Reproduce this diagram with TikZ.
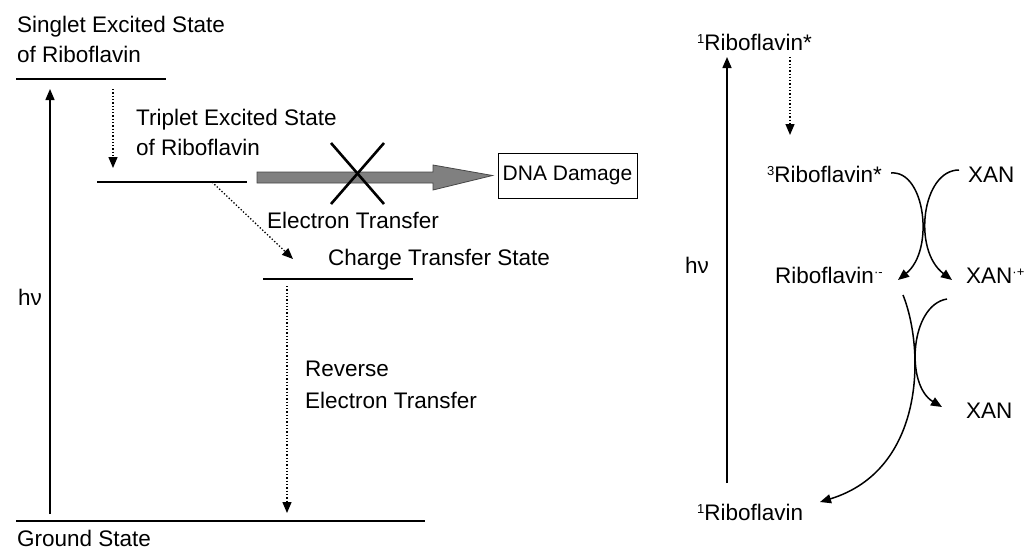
\documentclass[tikz,border=0pt]{standalone}
\usepackage{fontspec}
\setmainfont{Liberation Sans}
\usetikzlibrary{arrows.meta}
\definecolor{arrgray}{RGB}{128,128,128}
\definecolor{arredge}{RGB}{70,70,70}
\newcommand{\myup}[1]{\raisebox{0.55ex}{\fontsize{13}{13}\selectfont #1}}
\begin{document}
\begin{tikzpicture}[x=1pt,y=-1pt,
  lbl/.style={anchor=base west,inner sep=0,font=\fontsize{22.5}{27}\selectfont},
  level/.style={line width=1.4pt},
  uparr/.style={line width=1.5pt,-{Triangle[length=11pt,width=9pt]}},
  dotarr/.style={line width=1.3pt,dotted,-{Triangle[length=11pt,width=9pt]}},
  curvearr/.style={line width=1.5pt,-{Triangle[length=11pt,width=9pt]}}]
\useasboundingbox (0,0) rectangle (1024,552);

% ---------- left panel ----------
\node[lbl] (s1) at (17,32) {Singlet Excited State};
\node[lbl] (s2) at (17,62) {of Riboflavin};
\node[lbl] (t1) at (136,125) {Triplet Excited State};
\node[lbl] (t2) at (136,155) {of Riboflavin};
\node[lbl] (et1) at (267,228) {Electron Transfer};
\node[lbl] (cts) at (328,265) {Charge Transfer State};
\node[lbl] (rv1) at (305,376) {Reverse};
\node[lbl] (rv2) at (305,408) {Electron Transfer};
\node[lbl] (gs) at (17,546) {Ground State};
\node[lbl] (hv1) at (18,305) {h\char"03BD};
\node[draw,line width=1pt,minimum width=139pt,minimum height=45pt,inner sep=0,
      font=\fontsize{21}{25}\selectfont] (dna) at (567.5,175.5) {DNA Damage};

% levels
\coordinate (sL) at (16,79);  \coordinate (sR) at (166,79);
\coordinate (tL) at (97,182); \coordinate (tR) at (247,182);
\coordinate (cL) at (263,279);\coordinate (cR) at (413,279);
\coordinate (gL) at (16,521); \coordinate (gR) at (425,521);
\draw[level] (sL) -- (sR);
\draw[level] (tL) -- (tR);
\draw[level] (cL) -- (cR);
\draw[level] (gL) -- (gR);

% excitation and relaxation
\coordinate (exA) at (50,514); \coordinate (exB) at (50,89);
\draw[uparr] (exA) -- (exB);
\coordinate (isA) at (113,89); \coordinate (isB) at (113,168);
\draw[dotarr] (isA) -- (isB);
\coordinate (etA) at (212,182); \coordinate (etB) at (293,259);
\draw[dotarr] (etA) -- (etB);
\coordinate (rtA) at (287,286); \coordinate (rtB) at (287,513);
\draw[dotarr] (rtA) -- (rtB);

% blocked gray arrow
\filldraw[fill=arrgray,draw=arredge,line width=0.8pt]
  (257,172) -- (433,172) -- (433,165) -- ([xshift=-5pt]dna.west) -- (433,190) -- (433,183) -- (257,183) -- cycle;
\draw[line width=2.6pt] (331,143) -- (384,204);
\draw[line width=2.6pt] (384,143) -- (331,204);

% ---------- right panel ----------
\node[lbl] (r1s) at (697,50) {\myup{1}Riboflavin*};
\node[lbl] (r3s) at (767,182) {\myup{3}Riboflavin*};
\node[lbl] (xan1) at (968,182) {XAN};
\node[lbl] (rrad) at (775,283) {Riboflavin\myup{·-}};
\node[lbl] (xrad) at (966,283) {XAN\myup{·+}};
\node[lbl] (xan2) at (966,418) {XAN};
\node[lbl] (r1g) at (697,520) {\myup{1}Riboflavin};
\node[lbl] (hv2) at (685,273) {h\char"03BD};

\coordinate (rexA) at (727,483); \coordinate (rexB) at (727,57);
\draw[uparr] (rexA) -- (rexB);
\coordinate (riscA) at (790,57); \coordinate (riscB) at (790,135);
\draw[dotarr] (riscA) -- (riscB);

\coordinate (cA1) at (891,173); \coordinate (cA2) at (898,280);
\draw[curvearr] (cA1) .. controls (925,170) and (935,250) .. (cA2);
\coordinate (cB1) at (959,170); \coordinate (cB2) at (952,280);
\draw[curvearr] (cB1) .. controls (922,170) and (912,250) .. (cB2);
\coordinate (cC1) at (903,295); \coordinate (cC2) at (820,502);
\draw[curvearr] (cC1) .. controls (925,350) and (925,470) .. (cC2);
\coordinate (cD1) at (947,299); \coordinate (cD2) at (942,407);
\draw[curvearr] (cD1) .. controls (910,305) and (905,385) .. (cD2);
\end{tikzpicture}
\end{document}
